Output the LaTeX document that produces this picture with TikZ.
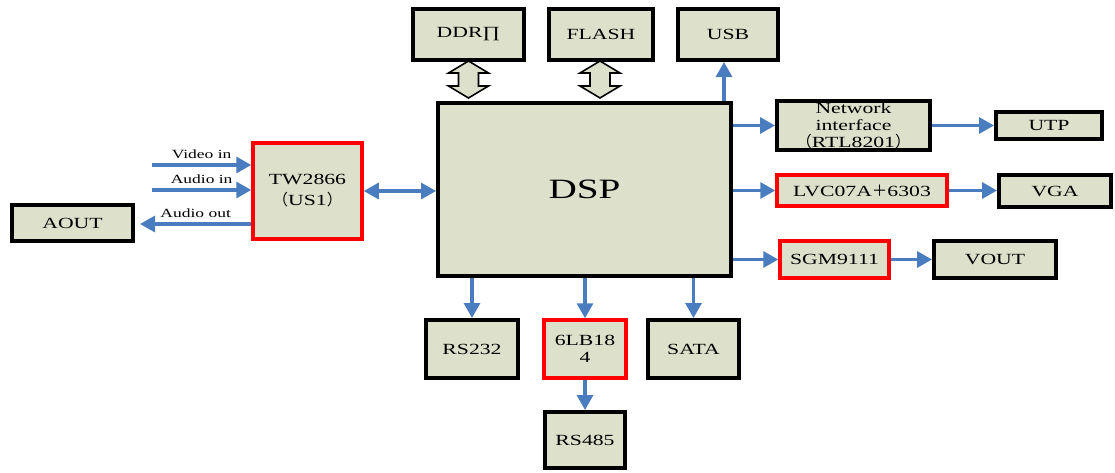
\documentclass[tikz,border=0pt]{standalone}
\usepackage{fontspec}
\setmainfont{Liberation Serif}[FakeStretch=1.4]
\newfontfamily\cjk{Noto Sans CJK SC}
\usetikzlibrary{arrows.meta,calc}
\definecolor{boxfill}{RGB}{221,224,203}
\definecolor{arrblue}{RGB}{74,125,192}
\tikzset{
 blk/.style={draw=black, line width=4pt, fill=boxfill, inner sep=1pt, font=\fontsize{15.5}{17}\selectfont, align=center},
 redb/.style={blk, draw=red, line width=3.5pt},
 arr/.style={draw=arrblue, line width=3.2pt, -{Triangle[length=15pt,width=16pt]}},
 darr/.style={draw=arrblue, line width=3.2pt, {Triangle[length=15pt,width=16pt]}-{Triangle[length=15pt,width=16pt]}},
 hollow/.style={draw=black, line width=1.6pt, fill=boxfill, line join=miter},
 lbl/.style={font=\fontsize{12.5}{14}\selectfont, inner sep=0pt},
}
\begin{document}
\begin{tikzpicture}[x=1pt,y=-1pt]
\useasboundingbox (0,0) rectangle (1115,472);
% top row
\node[blk, minimum width=111, minimum height=51] (ddr) at (468.5,34.5) {DDR∏};
\node[blk, minimum width=104, minimum height=51] (flash) at (601,34.5) {FLASH};
\node[blk, minimum width=100, minimum height=51] (usb) at (728,34.5) {USB};
% DSP
\node[blk, minimum width=293, minimum height=173, font=\fontsize{28}{30}\selectfont] (dsp) at (584.5,189.5) {DSP};
% right side
\node[blk, minimum width=153, minimum height=45] (net) at (853.5,125.5) {Network\\interface\\{\cjk （}RTL8201{\cjk ）}};
\node[blk, minimum width=106, minimum height=27] (utp) at (1049,125.5) {UTP};
\node[redb, minimum width=170, minimum height=31] (lvc) at (862,190.5) {LVC07A{\cjk ＋}6303};
\node[blk, minimum width=112, minimum height=32] (vga) at (1055,191) {VGA};
\node[redb, minimum width=109, minimum height=37] (sgm) at (834.5,259.5) {SGM9111};
\node[blk, minimum width=122, minimum height=37] (vout) at (995,259.5) {VOUT};
% left side
\node[redb, minimum width=109, minimum height=96, font=\fontsize{15.5}{21}\selectfont] (tw) at (307.5,191) {TW2866\\{\cjk （}US1{\cjk ）}};
\node[blk, minimum width=121, minimum height=36] (aout) at (72.5,223) {AOUT};
% bottom
\node[blk, minimum width=92, minimum height=58] (rs232) at (472,349) {RS232};
\node[redb, minimum width=82, minimum height=58] (lb) at (585,349) {6LB18\\4};
\node[blk, minimum width=91, minimum height=58] (sata) at (693.5,349) {SATA};
\node[blk, minimum width=80, minimum height=56] (rs485) at (585,440) {RS485};
% hollow double arrows
\draw[hollow] ([yshift=1pt]ddr.south) -- ++(20,12) -- ++(-10,0) -- ++(0,13) -- ++(10,0) -- ++(-20,12) -- ++(-20,-12) -- ++(10,0) -- ++(0,-13) -- ++(-10,0) -- cycle;
\draw[hollow] ([xshift=-1pt,yshift=1pt]flash.south) -- ++(20,12) -- ++(-10,0) -- ++(0,13) -- ++(10,0) -- ++(-20,12) -- ++(-20,-12) -- ++(10,0) -- ++(0,-13) -- ++(-10,0) -- cycle;
% blue arrows
\draw[arr] ([xshift=-4pt]dsp.north -| usb.south) -- ([xshift=-4pt]usb.south);
\draw[arr] (dsp.east |- net.west) -- (net.west);
\draw[arr] (net.east) -- (utp.west);
\draw[arr] (dsp.east |- lvc.west) -- (lvc.west);
\draw[arr] (lvc.east) -- (lvc.east -| vga.west);
\draw[arr] (dsp.east |- sgm.west) -- (sgm.west);
\draw[arr] (sgm.east) -- (vout.west);
\draw[arr] (dsp.south -| rs232.north) -- (rs232.north);
\draw[arr] (dsp.south -| lb.north) -- (lb.north);
\draw[arr] (dsp.south -| sata.north) -- (sata.north);
\draw[arr] (lb.south) -- (rs485.north);
\draw[darr] (tw.east) -- (dsp.west |- tw.east);
% inputs / outputs of TW2866
\coordinate (vin) at (152,165);
\coordinate (ain) at (152,190);
\coordinate (aoutend) at (140,224);
\draw[arr] (vin) -- (tw.west |- vin) node[lbl, midway, above=5pt] {Video in};
\draw[arr] (ain) -- (tw.west |- ain) node[lbl, midway, above=5pt] {Audio in};
\draw[arr] (tw.west |- aoutend) -- (aoutend) node[lbl, midway, above=5pt] {Audio out};
\end{tikzpicture}
\end{document}
